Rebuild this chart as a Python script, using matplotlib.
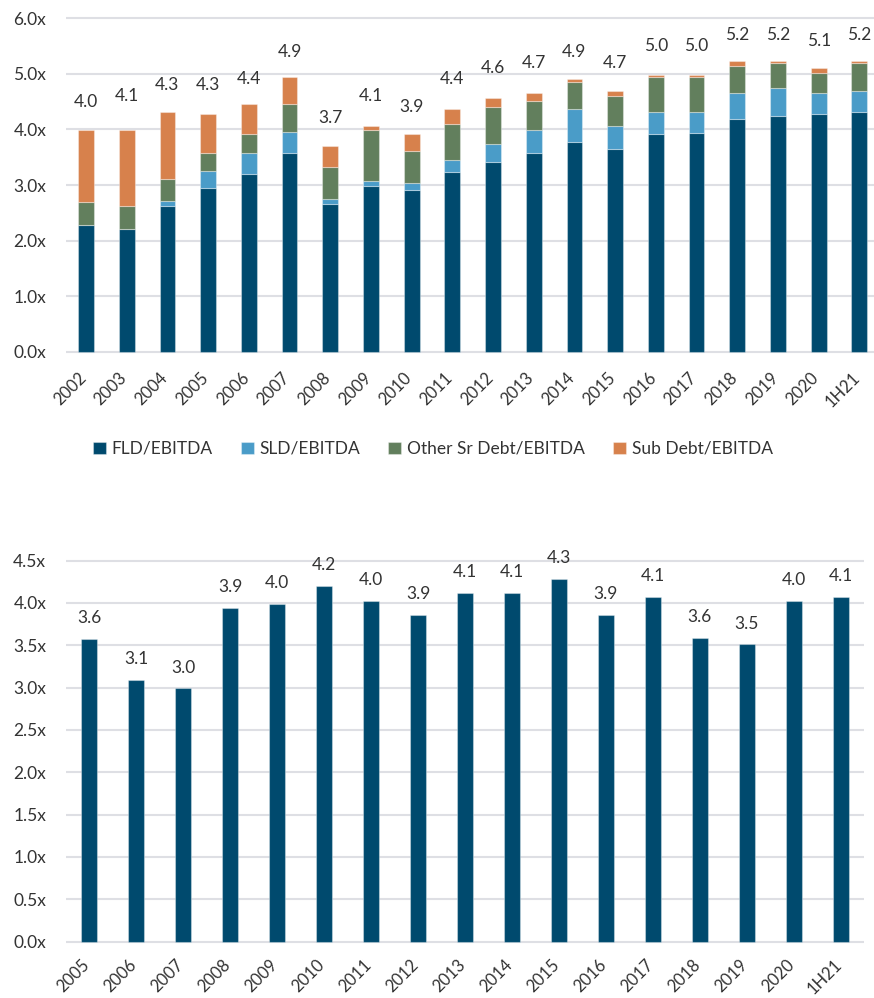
import numpy as np
import matplotlib
matplotlib.use("Agg")
import matplotlib.pyplot as plt

plt.rcParams['font.family'] = ['Lato', 'DejaVu Sans']

# --- datos grafico superior (apalancamiento por tramo de deuda) ---
years_top = ['2002', '2003', '2004', '2005', '2006', '2007', '2008', '2009', '2010', '2011',
             '2012', '2013', '2014', '2015', '2016', '2017', '2018', '2019', '2020', '1H21']
fld = [2.28, 2.21, 2.62, 2.95, 3.20, 3.58, 2.66, 2.99, 2.91, 3.24,
       3.41, 3.58, 3.78, 3.65, 3.91, 3.94, 4.19, 4.24, 4.28, 4.32]
sld = [0.00, 0.00, 0.09, 0.30, 0.38, 0.37, 0.08, 0.09, 0.13, 0.21,
       0.33, 0.41, 0.58, 0.42, 0.41, 0.38, 0.46, 0.50, 0.37, 0.37]
other_sr = [0.42, 0.41, 0.40, 0.33, 0.33, 0.50, 0.59, 0.91, 0.58, 0.65,
            0.66, 0.53, 0.50, 0.54, 0.62, 0.62, 0.50, 0.46, 0.37, 0.50]
sub_debt = [1.29, 1.37, 1.21, 0.70, 0.54, 0.49, 0.37, 0.08, 0.29, 0.26,
            0.17, 0.13, 0.04, 0.08, 0.04, 0.04, 0.08, 0.04, 0.08, 0.04]
total_top = [4.0, 4.1, 4.3, 4.3, 4.4, 4.9, 3.7, 4.1, 3.9, 4.4,
             4.6, 4.7, 4.9, 4.7, 5.0, 5.0, 5.2, 5.2, 5.1, 5.2]

# --- datos grafico inferior ---
years_bot = ['2005', '2006', '2007', '2008', '2009', '2010', '2011', '2012', '2013',
             '2014', '2015', '2016', '2017', '2018', '2019', '2020', '1H21']
lev_bot = [3.57, 3.09, 2.99, 3.94, 3.99, 4.20, 4.02, 3.86, 4.12,
           4.12, 4.28, 3.86, 4.07, 3.59, 3.51, 4.02, 4.07]

c_fld = '#004A6E'
c_sld = '#4A9CC8'
c_oth = '#627F5D'
c_sub = '#D7814C'
grid_c = '#DEDFE4'
txt_c = '#333333'
edge = (1, 1, 1, 0.35)

W, H = 874, 998
fig = plt.figure(figsize=(W / 100, H / 100), dpi=100)

def frac_y(px):
    return (H - px) / H

# grafico superior
ax1 = fig.add_axes([65.7 / W, frac_y(354.5), 1 - 65.7 / W, 339.0 / H])
x1 = np.arange(len(years_top))
bw = 0.39
base = np.zeros(len(x1))
series = [(fld, c_fld, 'FLD/EBITDA'), (sld, c_sld, 'SLD/EBITDA'),
          (other_sr, c_oth, 'Other Sr Debt/EBITDA'), (sub_debt, c_sub, 'Sub Debt/EBITDA')]
for vals, col, lab in series:
    ax1.bar(x1, vals, bw, bottom=base, color=col, edgecolor=edge, linewidth=0.8, label=lab, zorder=3)
    base = base + np.array(vals)

for i, t in enumerate(total_top):
    ax1.annotate(f"{t:.1f}", (x1[i], t), xytext=(0, 20), textcoords='offset points',
                 ha='center', va='center', fontsize=12.5, color=txt_c)

ax1.set_ylim(-0.05, 6.05)
ax1.set_xlim(-0.5, 19.36)
ax1.set_yticks(np.arange(0, 6.01, 1.0))
ax1.set_yticklabels([f"{v:.1f}x" for v in np.arange(0, 6.01, 1.0)])
ax1.set_xticks(x1 + 0.08)
ax1.set_xticklabels(years_top, rotation=45, ha='right', va='top')

# grafico inferior
ax2 = fig.add_axes([65.7 / W, frac_y(944.2), (864.3 - 65.7) / W, 386.2 / H])
x2 = np.arange(len(years_bot))
ax2.bar(x2, lev_bot, 0.33, color=c_fld, edgecolor=edge, linewidth=0.8, zorder=3)
for i, v in enumerate(lev_bot):
    ax2.annotate(f"{v:.1f}", (x2[i], v), xytext=(0, 15), textcoords='offset points',
                 ha='center', va='center', fontsize=12.5, color=txt_c)
ax2.set_ylim(-0.03, 4.53)
ax2.set_xlim(-0.5, 16.5)
ax2.set_yticks(np.arange(0, 4.51, 0.5))
ax2.set_yticklabels([f"{v:.1f}x" for v in np.arange(0, 4.51, 0.5)])
ax2.set_xticks(x2 + 0.08)
ax2.set_xticklabels(years_bot, rotation=45, ha='right', va='top')

for ax, xpad in ((ax1, 11), (ax2, 9)):
    for s in ax.spines.values():
        s.set_visible(False)
    ax.yaxis.grid(True, color=grid_c, linewidth=1.5, zorder=0)
    ax.xaxis.grid(False)
    ax.set_axisbelow(True)
    ax.tick_params(axis='y', length=0, pad=14, labelsize=12.5, labelcolor=txt_c)
    ax.tick_params(axis='x', length=0, pad=xpad, labelsize=12, labelcolor=txt_c)

fig.legend(loc='center', bbox_to_anchor=(433 / W, frac_y(449)), ncol=4, frameon=False,
           fontsize=12.5, handlelength=0.75, handleheight=0.75, handletextpad=0.35,
           columnspacing=1.6, labelcolor=txt_c)

fig.savefig('out.png', dpi=100)
